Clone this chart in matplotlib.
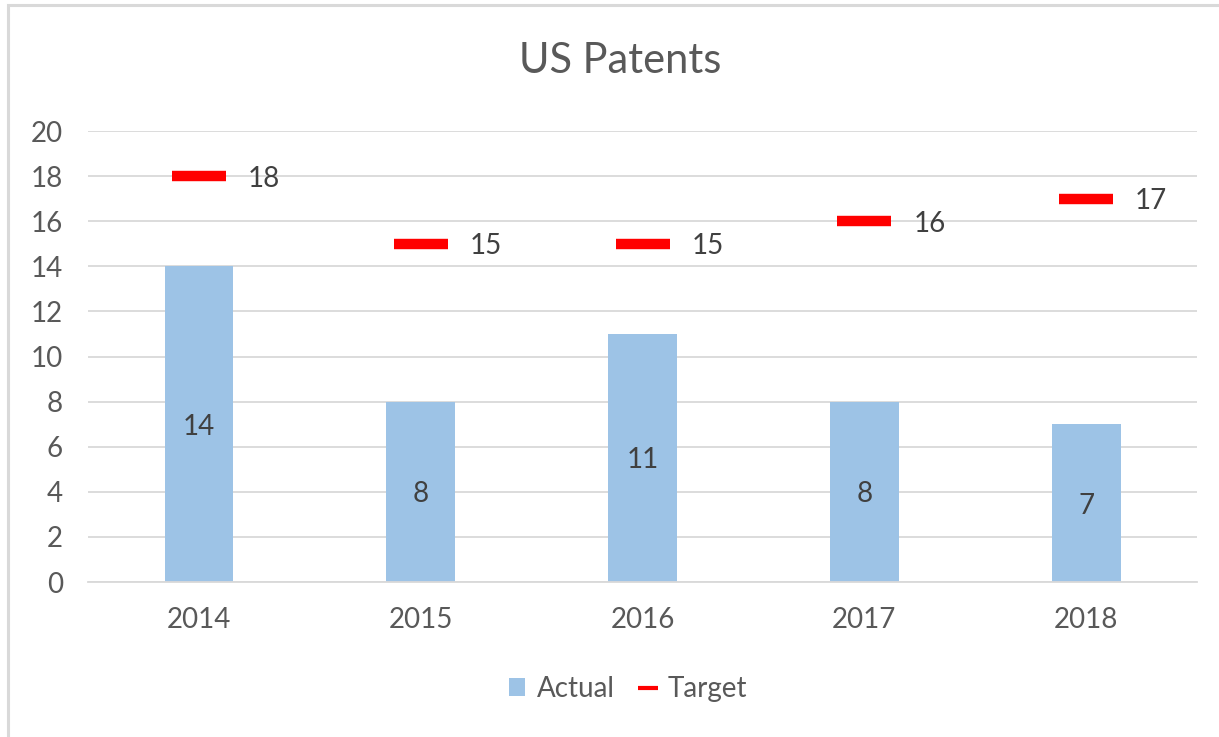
import matplotlib.pyplot as plt
from matplotlib.patches import Rectangle

plt.rcParams['font.family'] = ['Lato', 'DejaVu Sans']

# data
years = ['2014', '2015', '2016', '2017', '2018']
actual = [14, 8, 11, 8, 7]
target = [18, 15, 15, 16, 17]

fig = plt.figure(figsize=(12.19, 7.37), dpi=100)
ax = fig.add_axes([0.0722, 0.2103, 0.9098, 0.6119])

x = list(range(len(years)))
bars = ax.bar(x, actual, width=0.31, color='#9DC3E6', label='Actual', zorder=2)
tline, = ax.plot(x, target, linestyle='none', marker='_', markersize=39, markeredgewidth=7.5,
                 color='#FF0000', label='Target', zorder=3)

# labels in the bars
for xi, v in zip(x, actual):
    ax.text(xi, v / 2, str(v), ha='center', va='center_baseline', fontsize=20,
            color='#404040', zorder=4)
# labels right of the target markers
for xi, v in zip(x, target):
    ax.text(xi + 0.293, v, str(v), ha='center', va='center_baseline', fontsize=20,
            color='#404040', zorder=4)

ax.set_xlim(-0.5, 4.5)
ax.set_ylim(0, 20)
ax.set_yticks(range(0, 21, 2))
ax.set_xticks(x)
ax.set_xticklabels(years)
ax.tick_params(length=0, labelsize=20, labelcolor='#595959')
ax.tick_params(axis='x', pad=18)
ax.tick_params(axis='y', pad=18)
ax.grid(axis='y', color='#D9D9D9', linewidth=1.3, zorder=0)
for s in ['top', 'right', 'left']:
    ax.spines[s].set_visible(False)
ax.spines['bottom'].set_color('#D9D9D9')
ax.spines['bottom'].set_linewidth(1.3)

fig.text(0.5085, 0.917, 'US Patents', ha='center', va='center', fontsize=30, color='#595959')

leg = fig.legend([bars, tline], ['Actual', 'Target'], loc='center',
                 bbox_to_anchor=(0.515, 0.065), ncol=2, frameon=False,
                 fontsize=20, handlelength=0.6, handleheight=0.6, handletextpad=0.4,
                 columnspacing=0.9, labelcolor='#595959')
tline_handle = leg.legend_handles[1]
tline_handle.set_markersize(14)
tline_handle.set_markeredgewidth(3)

# chart frame
fig.patches.append(Rectangle((0.0066, -0.1), 1.2, 1.0932, transform=fig.transFigure,
                             fill=False, edgecolor='#D9D9D9', linewidth=2.2))

plt.savefig('out.png', dpi=100)
